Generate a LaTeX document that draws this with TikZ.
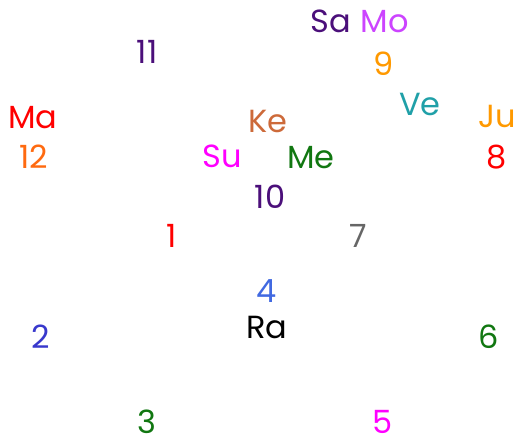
\documentclass[tikz,border=0pt]{standalone}
\usepackage{fontspec}
\setmainfont{Poppins}
\usepackage{xcolor}
\usetikzlibrary{positioning}

\definecolor{indig}{HTML}{4B0F7A}
\definecolor{orch}{HTML}{CC44FF}
\definecolor{orng}{HTML}{FF9900}
\definecolor{orred}{HTML}{FF6A10}
\definecolor{kebrn}{HTML}{CD6A3A}
\definecolor{tealv}{HTML}{20A0A8}
\definecolor{grn}{HTML}{117711}
\definecolor{gry}{HTML}{666666}
\definecolor{royal}{HTML}{4169E1}
\definecolor{blu}{HTML}{3838CC}
\definecolor{magn}{HTML}{FF00FF}
\definecolor{rd}{HTML}{FF0000}

\begin{document}
\begin{tikzpicture}[x=1pt, y=-1pt, lbl/.style={anchor=base, inner sep=0pt, font=\fontsize{32}{32}\selectfont}]
\useasboundingbox (0,0) rectangle (518,439);

% planets
\node[lbl, text=indig] (sa) at (331,32){Sa};
\node[lbl, text=orch] (mo) at (385,32){Mo};
\node[lbl, text=rd] (ma) at (33,128){Ma};
\node[lbl, text=kebrn] (ke) at (268,132){Ke};
\node[lbl, text=tealv] (ve) at (420,115){Ve};
\node[lbl, text=orng] (ju) at (497,127){Ju};
\node[lbl, text=magn] (su) at (222,167){Su};
\node[lbl, text=grn] (me) at (311,168){Me};
\node[lbl, text=black] (ra) at (267,338){Ra};

% houses
\node[lbl, text=rd] (h1) at (172,247){1};
\node[lbl, text=blu] (h2) at (41,348){2};
\node[lbl, text=grn] (h3) at (147,433){3};
\node[lbl, text=royal] (h4) at (267,302){4};
\node[lbl, text=magn] (h5) at (383,433){5};
\node[lbl, text=grn] (h6) at (489,348){6};
\node[lbl, text=gry] (h7) at (358,247){7};
\node[lbl, text=rd] (h8) at (497,168){8};
\node[lbl, text=orng] (h9) at (384,75){9};
\node[lbl, text=indig] (h10) at (270,208){10};
\node[lbl, text=indig] (h11) at (147,63){11};
\node[lbl, text=orred] (h12) at (34,168){12};
\end{tikzpicture}
\end{document}
